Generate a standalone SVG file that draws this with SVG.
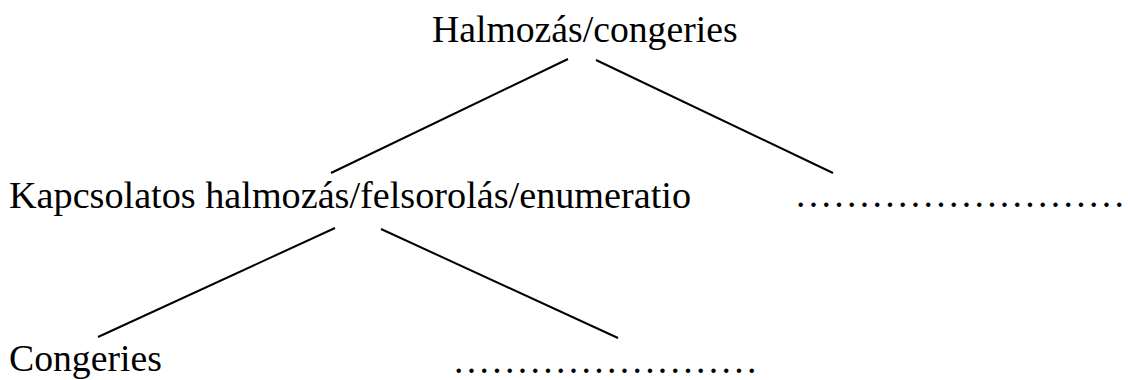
<svg xmlns="http://www.w3.org/2000/svg" width="1128" height="380" viewBox="0 0 1128 380">
  <style>
    text { font-family: 'Liberation Serif', Tinos, 'Times New Roman', 'Noto Serif', 'DejaVu Serif', serif; font-size: 37.7px; fill: #000; }
    .dots { letter-spacing: 3.32px; }
    .edge { stroke: #000; stroke-width: 2; fill: none; }
  </style>
  <rect width="1128" height="380" fill="#fff"/>
  <g id="connectors">
    <line class="edge" x1="568" y1="59" x2="331" y2="173"/>
    <line class="edge" x1="596" y1="60" x2="833" y2="173"/>
    <line class="edge" x1="335" y1="228" x2="98" y2="337"/>
    <line class="edge" x1="381" y1="229" x2="618" y2="338"/>
  </g>
  <g id="node-root">
    <text x="432" y="42">Halmozás/congeries</text>
  </g>
  <g id="node-enumeratio">
    <text x="9" y="208" textLength="682" lengthAdjust="spacingAndGlyphs">Kapcsolatos halmozás/felsorolás/enumeratio</text>
  </g>
  <g id="node-other-1">
    <text class="dots" x="796" y="207">..........................</text>
  </g>
  <g id="node-congeries">
    <text x="9" y="371">Congeries</text>
  </g>
  <g id="node-other-2">
    <text class="dots" x="454" y="373">........................</text>
  </g>
</svg>
